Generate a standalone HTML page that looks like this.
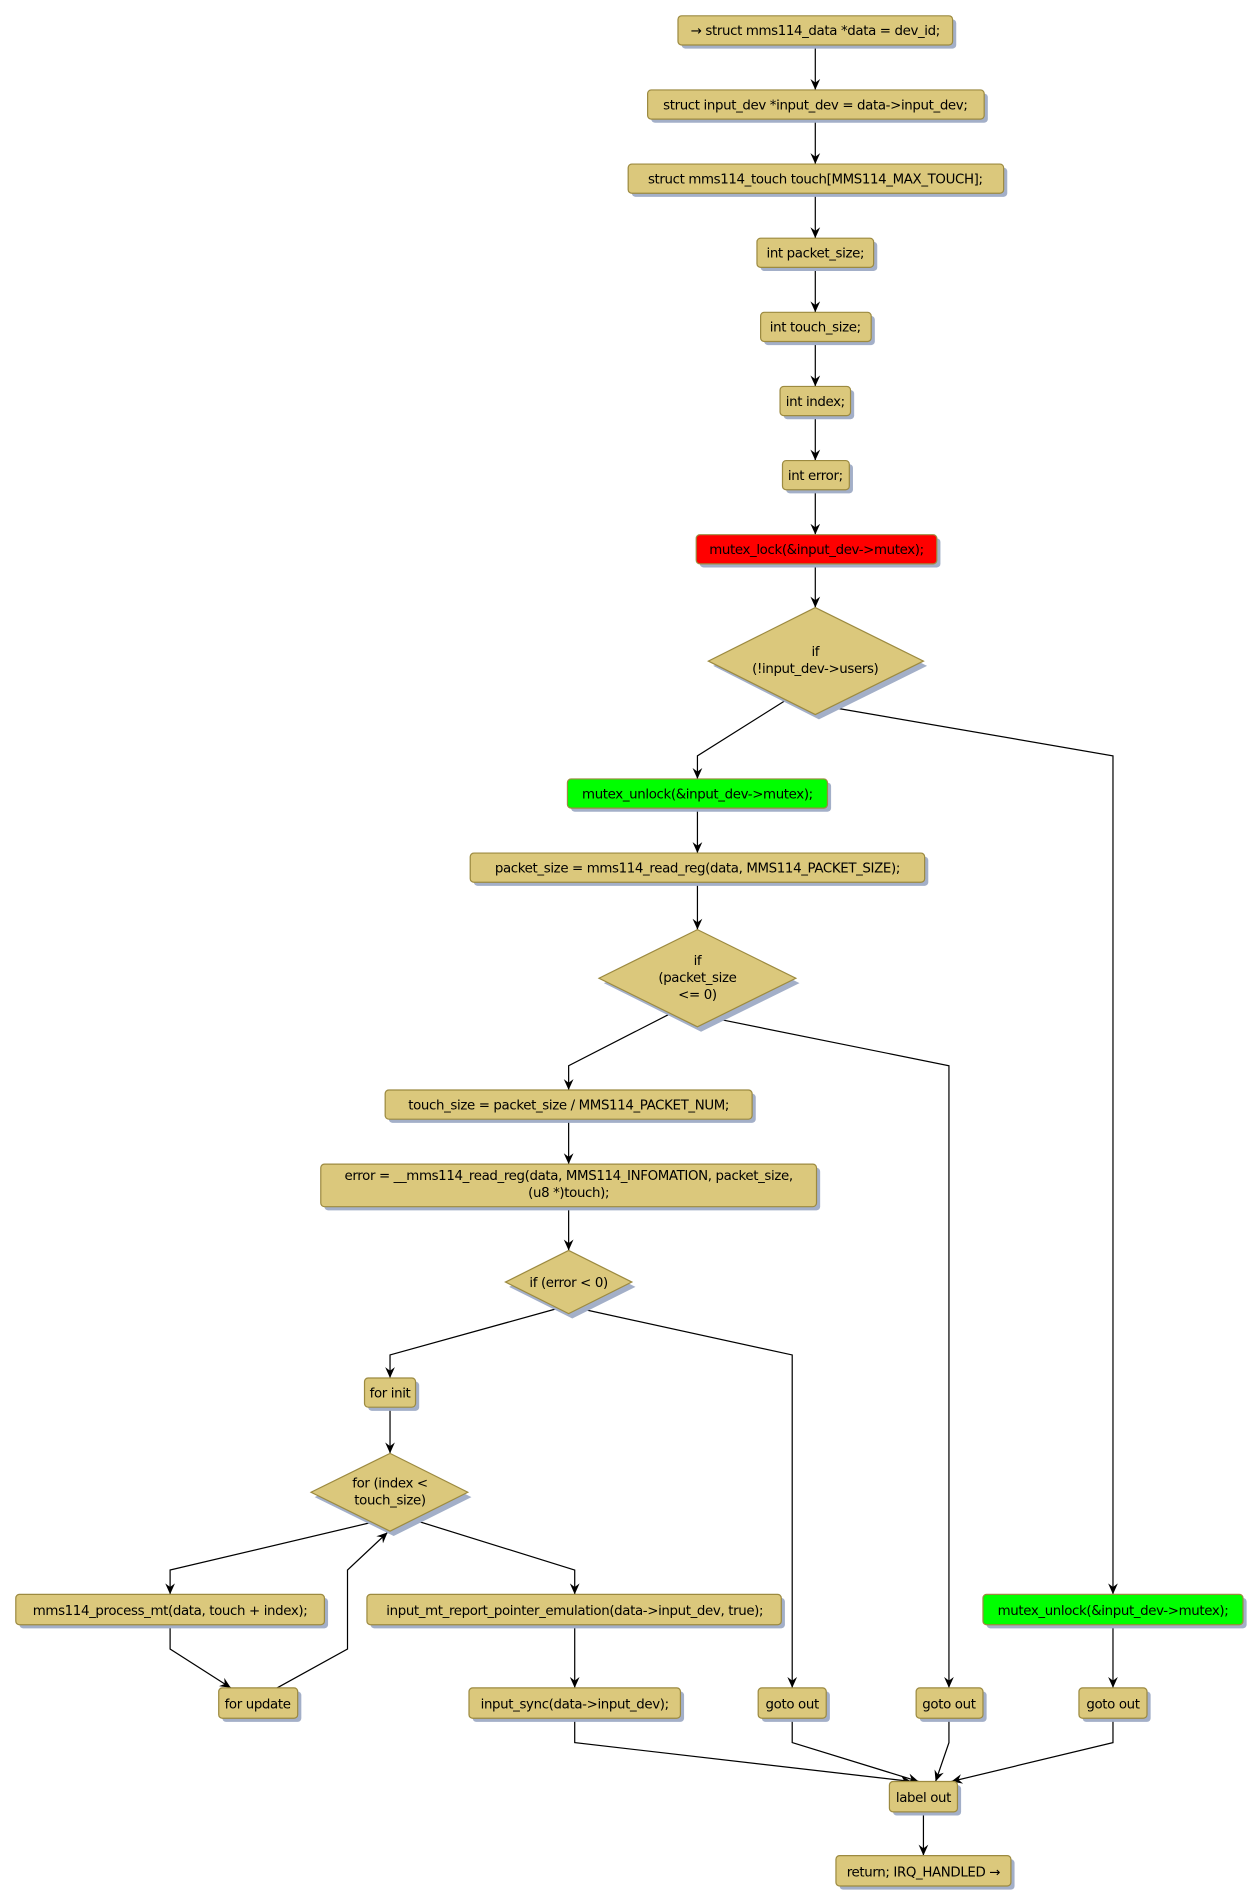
<!DOCTYPE html>
<html><head><meta charset="utf-8"><style>
html,body{margin:0;padding:0;background:#fff;}
svg{display:block;}
text{font-family:"DejaVu Sans","Liberation Sans",sans-serif;font-size:11px;letter-spacing:-0.3px;fill:#000;text-anchor:middle;}
.b{fill:#DBC87C;stroke:#9C8A40;stroke-width:1;}
.s{fill:#A3AFC8;stroke:none;}
.l{fill:none;stroke:#000;stroke-width:1;}
.a{fill:#000;}
</style></head><body>
<svg width="1260" height="1903" viewBox="0 0 1037 1566" preserveAspectRatio="none" xmlns="http://www.w3.org/2000/svg">
<defs>
<marker id="m" markerWidth="10" markerHeight="10" refX="9" refY="5" orient="auto" markerUnits="userSpaceOnUse">
<path d="M0,1 L9,5 L0,9 L3,5 Z" class="a"/></marker>
</defs>
<g class="l" marker-end="url(#m)">
<path d="M671,37 V74"/><path d="M671,98 V135"/><path d="M671,159 V196"/><path d="M671,220 V257"/>
<path d="M671,281 V318"/><path d="M671,342 V379"/><path d="M671,403 V440"/><path d="M671,464 V500"/>
<path d="M647,576 L574,622 V641"/>
<path d="M684,582 L916,622 V1312"/>
<path d="M574,665 V702"/><path d="M574,726 V765"/>
<path d="M552,834 L468,877 V897"/>
<path d="M588,838 L781,877 V1389"/>
<path d="M468,921 V958"/><path d="M468,993 V1029"/>
<path d="M458,1077 L321,1115 V1134"/>
<path d="M478,1077 L652,1115 V1389"/>
<path d="M321,1158 V1196"/>
<path d="M305,1253 L140,1292 V1312"/>
<path d="M338,1250 L473,1292 V1312"/>
<path d="M140,1337 V1357 L190,1389"/>
<path d="M228,1389 L286,1357 V1292 L319,1261"/>
<path d="M473,1337 V1389"/>
<path d="M916,1337 V1389"/>
<path d="M473,1414 V1434 L750,1466"/>
<path d="M652,1414 V1434 L756,1466"/>
<path d="M781,1414 V1434 L770,1466"/>
<path d="M916,1414 V1434 L783,1466"/>
<path d="M760,1491 V1527"/>
</g>
<g>
<rect class="s" x="561" y="16" width="226" height="24" rx="3"/><rect class="b" x="558" y="13" width="226" height="24" rx="3"/><text x="671" y="29">→ struct mms114_data *data = dev_id;</text>
<rect class="s" x="536" y="77" width="277" height="24" rx="3"/><rect class="b" x="533" y="74" width="277" height="24" rx="3"/><text x="671" y="90">struct input_dev *input_dev = data-&gt;input_dev;</text>
<rect class="s" x="520" y="138" width="309" height="24" rx="3"/><rect class="b" x="517" y="135" width="309" height="24" rx="3"/><text x="671" y="151">struct mms114_touch touch[MMS114_MAX_TOUCH];</text>
<rect class="s" x="626" y="199" width="96" height="24" rx="3"/><rect class="b" x="623" y="196" width="96" height="24" rx="3"/><text x="671" y="212">int packet_size;</text>
<rect class="s" x="629" y="260" width="91" height="24" rx="3"/><rect class="b" x="626" y="257" width="91" height="24" rx="3"/><text x="671" y="273">int touch_size;</text>
<rect class="s" x="645" y="321" width="58" height="24" rx="3"/><rect class="b" x="642" y="318" width="58" height="24" rx="3"/><text x="671" y="334">int index;</text>
<rect class="s" x="647" y="382" width="55" height="24" rx="3"/><rect class="b" x="644" y="379" width="55" height="24" rx="3"/><text x="671" y="395">int error;</text>
<rect class="s" x="576" y="443" width="198" height="24" rx="3"/><rect class="b" style="fill:#FF0000" x="573" y="440" width="198" height="24" rx="3"/><text x="672" y="456">mutex_lock(&amp;input_dev-&gt;mutex);</text>
<polygon class="s" points="674,504 763,548 674,592 587,548"/><polygon class="b" points="671,500 760,544 671,588 583,544"/><text x="671" y="540">if</text><text x="671" y="554">(!input_dev-&gt;users)</text>
<rect class="s" x="470" y="644" width="214" height="24" rx="3"/><rect class="b" style="fill:#00FF00" x="467" y="641" width="214" height="24" rx="3"/><text x="574" y="657">mutex_unlock(&amp;input_dev-&gt;mutex);</text>
<rect class="s" x="390" y="705" width="374" height="24" rx="3"/><rect class="b" x="387" y="702" width="374" height="24" rx="3"/><text x="574" y="718">packet_size = mms114_read_reg(data, MMS114_PACKET_SIZE);</text>
<polygon class="s" points="577,769 658,809 577,849 497,809"/><polygon class="b" points="574,765 655,805 574,845 493,805"/><text x="574" y="794">if</text><text x="574" y="808">(packet_size</text><text x="574" y="822">&lt;= 0)</text>
<rect class="s" x="320" y="900" width="302" height="24" rx="3"/><rect class="b" x="317" y="897" width="302" height="24" rx="3"/><text x="468" y="913">touch_size = packet_size / MMS114_PACKET_NUM;</text>
<rect class="s" x="267" y="961" width="408" height="35" rx="3"/><rect class="b" x="264" y="958" width="408" height="35" rx="3"/><text x="468" y="971">error = __mms114_read_reg(data, MMS114_INFOMATION, packet_size,</text><text x="468" y="985">(u8 *)touch);</text>
<polygon class="s" points="471,1033 523,1059 471,1085 419,1059"/><polygon class="b" points="468,1029 520,1055 468,1081 416,1055"/><text x="468" y="1059">if (error &lt; 0)</text>
<rect class="s" x="303" y="1137" width="42" height="24" rx="3"/><rect class="b" x="300" y="1134" width="42" height="24" rx="3"/><text x="321" y="1150">for init</text>
<polygon class="s" points="324,1200 388,1232 324,1264 259,1232"/><polygon class="b" points="321,1196 385,1228 321,1260 256,1228"/><text x="321" y="1224">for (index &lt;</text><text x="321" y="1238">touch_size)</text>
<rect class="s" x="16" y="1315" width="254" height="25" rx="3"/><rect class="b" x="13" y="1312" width="254" height="25" rx="3"/><text x="140" y="1329">mms114_process_mt(data, touch + index);</text>
<rect class="s" x="305" y="1315" width="341" height="25" rx="3"/><rect class="b" x="302" y="1312" width="341" height="25" rx="3"/><text x="473" y="1329">input_mt_report_pointer_emulation(data-&gt;input_dev, true);</text>
<rect class="s" x="812" y="1315" width="214" height="25" rx="3"/><rect class="b" style="fill:#00FF00" x="809" y="1312" width="214" height="25" rx="3"/><text x="916" y="1329">mutex_unlock(&amp;input_dev-&gt;mutex);</text>
<rect class="s" x="183" y="1392" width="65" height="25" rx="3"/><rect class="b" x="180" y="1389" width="65" height="25" rx="3"/><text x="212" y="1406">for update</text>
<rect class="s" x="389" y="1392" width="174" height="25" rx="3"/><rect class="b" x="386" y="1389" width="174" height="25" rx="3"/><text x="473" y="1406">input_sync(data-&gt;input_dev);</text>
<rect class="s" x="627" y="1392" width="56" height="25" rx="3"/><rect class="b" x="624" y="1389" width="56" height="25" rx="3"/><text x="652" y="1406">goto out</text>
<rect class="s" x="757" y="1392" width="55" height="25" rx="3"/><rect class="b" x="754" y="1389" width="55" height="25" rx="3"/><text x="781" y="1406">goto out</text>
<rect class="s" x="891" y="1392" width="56" height="25" rx="3"/><rect class="b" x="888" y="1389" width="56" height="25" rx="3"/><text x="916" y="1406">goto out</text>
<rect class="s" x="735" y="1469" width="56" height="25" rx="3"/><rect class="b" x="732" y="1466" width="56" height="25" rx="3"/><text x="760" y="1483">label out</text>
<rect class="s" x="691" y="1530" width="144" height="25" rx="3"/><rect class="b" x="688" y="1527" width="144" height="25" rx="3"/><text x="760" y="1544">return; IRQ_HANDLED →</text>
</g>
</svg>
</body></html>
